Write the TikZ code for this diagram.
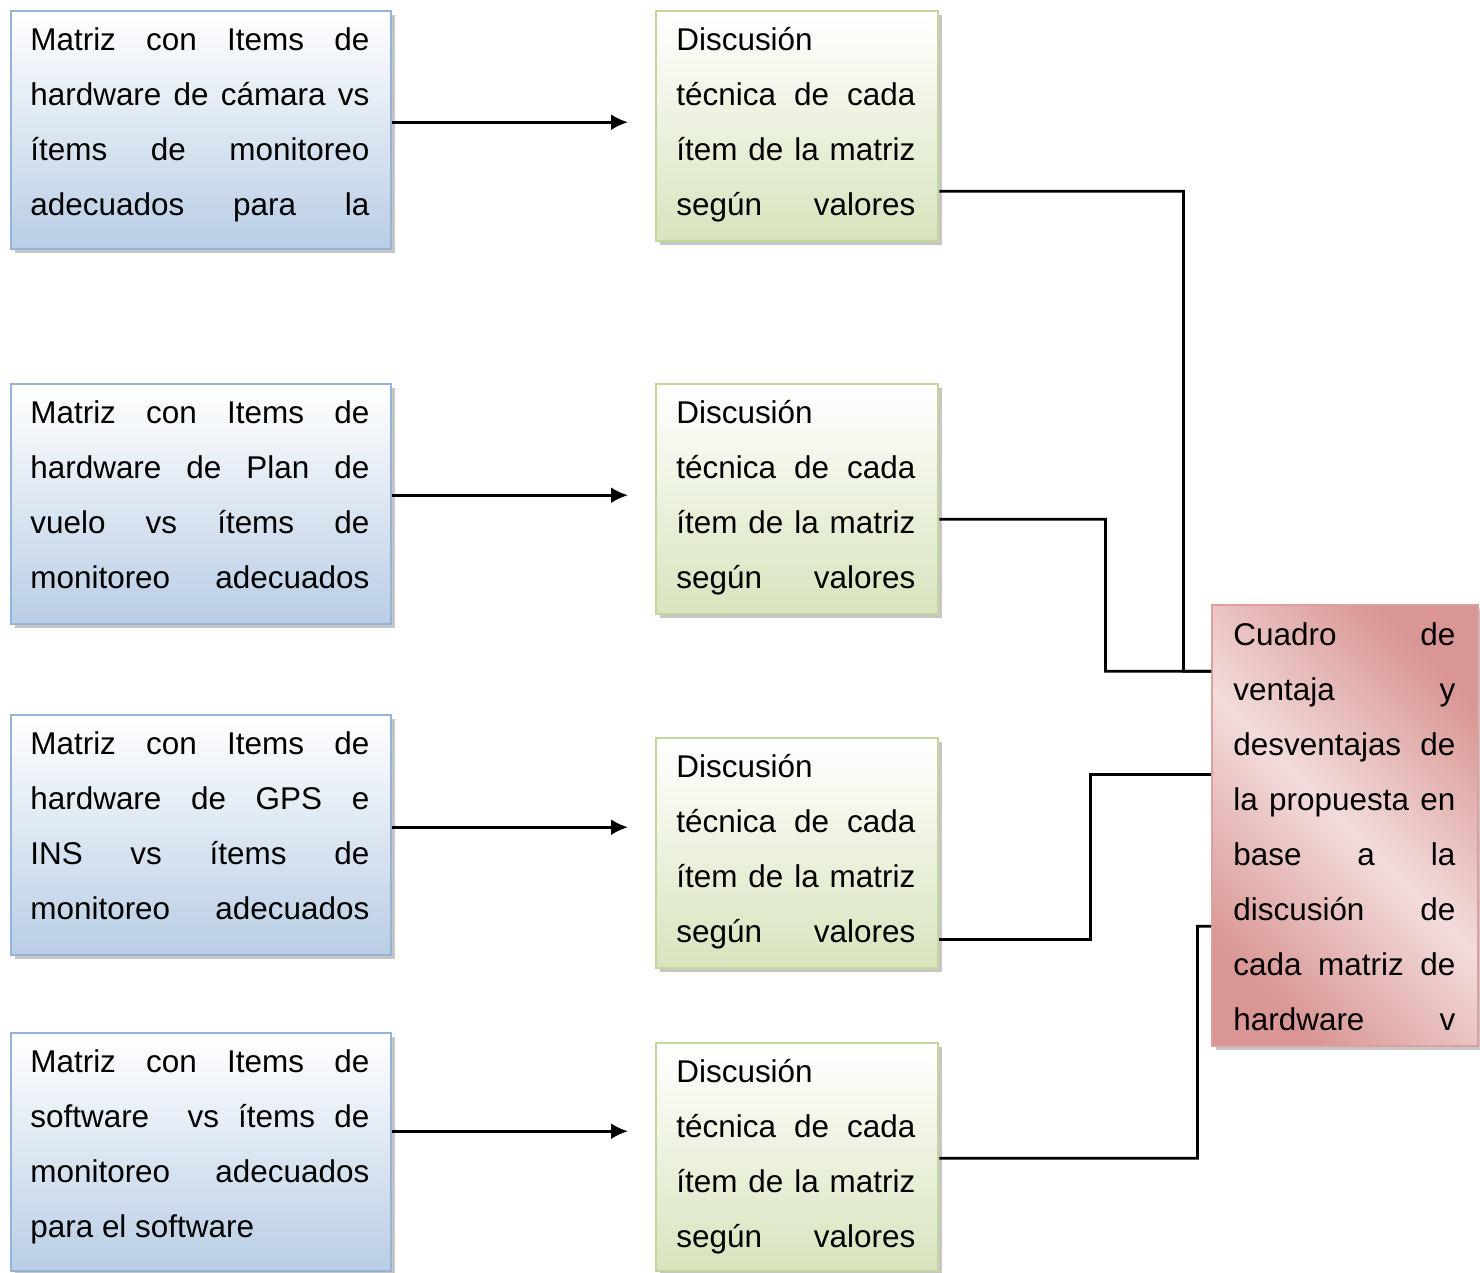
\documentclass[tikz,border=0pt]{standalone}
\usepackage{fontspec}
\setmainfont{Liberation Sans}
\usetikzlibrary{arrows.meta,shadows}
\definecolor{bluefill}{RGB}{185,205,229}
\definecolor{blueline}{RGB}{149,179,215}
\definecolor{greenfill}{RGB}{215,228,189}
\definecolor{greenline}{RGB}{195,214,155}
\definecolor{reddark}{RGB}{217,150,148}
\definecolor{redlight}{RGB}{242,220,219}
\definecolor{redline}{RGB}{222,160,158}
\pgfdeclarehorizontalshading{redglow}{100bp}{color(0bp)=(reddark); color(25bp)=(reddark); color(50bp)=(redlight); color(75bp)=(reddark); color(100bp)=(reddark)}
% one justified line of box text
\newcommand{\jl}[1]{\makebox[\linewidth][s]{\strut #1}}
\tikzset{
  box/.style={anchor=north west, inner sep=0pt, line width=1.4pt,
    drop shadow={shadow xshift=0.8mm, shadow yshift=-0.8mm, opacity=0.45}},
  bluebox/.style={box, draw=blueline, top color=white, bottom color=bluefill, minimum width=7.6cm},
  greenbox/.style={box, draw=greenline, top color=white, bottom color=greenfill, minimum width=5.64cm},
  redbox/.style={box, draw=redline, shading=redglow, shading angle=45, minimum width=5.32cm, minimum height=8.82cm},
  boxtext/.style={anchor=north west, inner sep=0pt, font=\fontsize{17.9pt}{31.3pt}\selectfont},
  link/.style={line width=1.5pt},
  >={Latex[length=3.4mm,width=3.2mm]}
}
\begin{document}
\begin{tikzpicture}
	\useasboundingbox (0,0) rectangle (29.6,-25.44);
	% matrices
	\node[bluebox, minimum height=4.76cm] (b1) at (0.2,-0.2) {};
	\node[bluebox, minimum height=4.8cm] (b2) at (0.2,-7.66) {};
	\node[bluebox, minimum height=4.8cm] (b3) at (0.2,-14.28) {};
	\node[bluebox, minimum height=4.76cm] (b4) at (0.2,-20.64) {};
	% discussions
	\node[greenbox, minimum height=4.6cm] (g1) at (13.1,-0.2) {};
	\node[greenbox, minimum height=4.6cm] (g2) at (13.1,-7.66) {};
	\node[greenbox, minimum height=4.6cm] (g3) at (13.1,-14.74) {};
	\node[greenbox, minimum height=4.56cm] (g4) at (13.1,-20.84) {};
	% summary
	\node[redbox] (r) at (24.22,-12.08) {};

	\node[boxtext] (tb1) at ([xshift=4mm,yshift=-0.3mm]b1.north west) {\parbox{6.78cm}{%
		\jl{Matriz con Items de}\\\jl{hardware de cámara vs}\\\jl{ítems de monitoreo}\\\jl{adecuados para la}}};
	\node[boxtext] (tb2) at ([xshift=4mm,yshift=-0.3mm]b2.north west) {\parbox{6.78cm}{%
		\jl{Matriz con Items de}\\\jl{hardware de Plan de}\\\jl{vuelo vs ítems de}\\\jl{monitoreo adecuados}}};
	\node[boxtext] (tb3) at ([xshift=4mm,yshift=-0.3mm]b3.north west) {\parbox{6.78cm}{%
		\jl{Matriz con Items de}\\\jl{hardware de GPS e}\\\jl{INS vs ítems de}\\\jl{monitoreo adecuados}}};
	\node[boxtext] (tb4) at ([xshift=4mm,yshift=-0.3mm]b4.north west) {\parbox{6.78cm}{%
		\jl{Matriz con Items de}\\\jl{software\ \ vs ítems de}\\\jl{monitoreo adecuados}\\\strut para el software}};
	\foreach \g in {g1,g2,g3,g4}
		\node[boxtext] (t\g) at ([xshift=4.2mm,yshift=-0.3mm]\g.north west) {\parbox{4.78cm}{%
			\strut Discusión\\\jl{técnica de cada}\\\jl{ítem de la matriz}\\\jl{según valores}}};
	\node[boxtext] (tr) at ([xshift=4.4mm,yshift=-0.5mm]r.north west) {\parbox{4.44cm}{%
		\jl{Cuadro de}\\\jl{ventaja y}\\\jl{desventajas de}\\\jl{la propuesta en}\\
		\jl{base a la}\\\jl{discusión de}\\\jl{cada matriz de}\\\jl{hardware v}}};

	% arrows
	\draw[link,->,shorten >=5.4mm] ([yshift=1.6mm]b1.east) -- ([yshift=1.6mm]b1.east -| g1.west);
	\draw[link,->,shorten >=5.4mm] ([yshift=1.8mm]b2.east) -- ([yshift=1.8mm]b2.east -| g2.west);
	\draw[link,->,shorten >=5.4mm] ([yshift=1.6mm]b3.east) -- ([yshift=1.6mm]b3.east -| g3.west);
	\draw[link,->,shorten >=5.4mm] ([yshift=4.2mm]b4.east) -- ([yshift=4.2mm]b4.east -| g4.west);
	% links to summary
	\draw[link] ([yshift=-13mm]g1.east) -| ++(4.88,-9.6) -- ([yshift=30.9mm]r.west);
	\draw[link] ([yshift=-4mm]g2.east) -| ++(3.32,-3.04) -- ([yshift=30.9mm]r.west);
	\draw[link] ([yshift=-17.2mm]g3.east) -| ++(3.02,3.3) -- ([yshift=10.3mm]r.west);
	\draw[link] ([yshift=-0.2mm]g4.east) -| ++(5.16,4.64) -- ([yshift=-20.1mm]r.west);
\end{tikzpicture}
\end{document}
